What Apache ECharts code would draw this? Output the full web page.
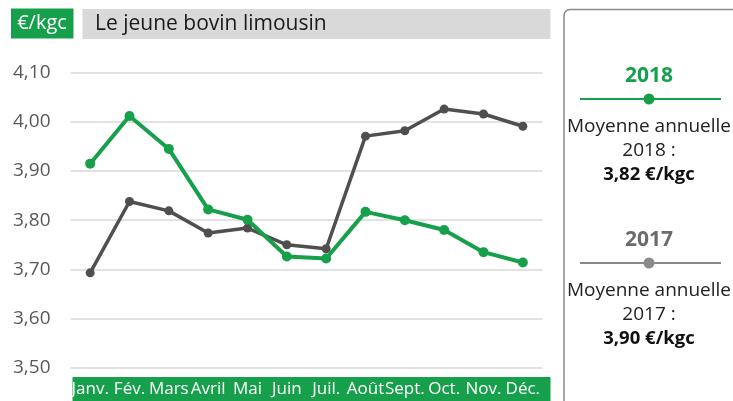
<!DOCTYPE html>
<html>
<head>
<meta charset="utf-8">
<script src="https://cdn.jsdelivr.net/npm/echarts@6/dist/echarts.min.js"></script>
<style>
html,body{margin:0;padding:0;background:#fff;}
#chart{width:733px;height:401px;}
</style>
</head>
<body>
<div id="chart"></div>
<script>
// ---- data ----
var months = ['Janv.', 'Fév.', 'Mars', 'Avril', 'Mai', 'Juin', 'Juil.', 'Août', 'Sept.', 'Oct.', 'Nov.', 'Déc.'];
var values2018 = [3.915, 4.012, 3.945, 3.822, 3.801, 3.726, 3.722, 3.817, 3.800, 3.780, 3.735, 3.714];
var values2017 = [3.693, 3.838, 3.819, 3.774, 3.784, 3.750, 3.742, 3.971, 3.982, 4.026, 4.016, 3.991];
var seriesNames = ['2018', '2017'];
var annualAverages = ['3,82 €/kgc', '3,90 €/kgc'];
var unitLabel = '€/kgc';
var titleText = 'Le jeune bovin limousin';

var GREEN = '#17a04c';
var DARK = '#4f4f4f';
var FONT = '"Open Sans", "Noto Sans", sans-serif';

var chart = echarts.init(document.getElementById('chart'));

function legendBlock(y0, name, avg, color, lineColor, dotColor) {
  return [
    { type: 'text', x: 649, y: y0, z: 10,
      style: { text: name, fill: color, font: 'bold 21px ' + FONT, align: 'center', verticalAlign: 'middle' } },
    { type: 'line', z: 10, shape: { x1: 580, y1: y0 + 23, x2: 721, y2: y0 + 23 },
      style: { stroke: lineColor, lineWidth: 2 } },
    { type: 'circle', z: 11, shape: { cx: 649, cy: y0 + 23, r: 5.5 }, style: { fill: dotColor } },
    { type: 'text', x: 649, y: y0 + 51, z: 10,
      style: { text: 'Moyenne annuelle', fill: '#222', font: '19px ' + FONT, align: 'center', verticalAlign: 'middle' } },
    { type: 'text', x: 649, y: y0 + 75, z: 10,
      style: { text: name + ' :', fill: '#222', font: '19px ' + FONT, align: 'center', verticalAlign: 'middle' } },
    { type: 'text', x: 649, y: y0 + 99, z: 10,
      style: { text: avg, fill: '#111', font: 'bold 18.5px ' + FONT, align: 'center', verticalAlign: 'middle' } }
  ];
}

var graphics = [
  // unit box
  { type: 'rect', z: 1, shape: { x: 11, y: 8.5, width: 62.5, height: 30 }, style: { fill: GREEN } },
  { type: 'text', z: 2, x: 42, y: 23.5,
    style: { text: unitLabel, fill: '#fff', font: '20px ' + FONT, align: 'center', verticalAlign: 'middle' } },
  // title bar
  { type: 'rect', z: 1, shape: { x: 82.5, y: 9, width: 468, height: 30 }, style: { fill: '#d9d9d9' } },
  { type: 'text', z: 2, x: 95, y: 24,
    style: { text: titleText, fill: '#1a1a1a', font: '21px ' + FONT, align: 'left', verticalAlign: 'middle' } },
  // x-axis green band
  { type: 'rect', z: 0, shape: { x: 72.5, y: 377, width: 478, height: 30 }, style: { fill: GREEN } },
  // legend panel
  { type: 'rect', z: 5, shape: { x: 564, y: 9.5, width: 200, height: 420, r: 6 },
    style: { fill: '#fff', stroke: '#8a8a8a', lineWidth: 1.5 } }
].concat(
  legendBlock(76, seriesNames[0], annualAverages[0], GREEN, GREEN, GREEN),
  legendBlock(240, seriesNames[1], annualAverages[1], '#6b6b6b', '#8a8a8a', '#8a8a8a')
);

var option = {
  animation: false,
  backgroundColor: '#fff',
  grid: { left: 70.5, right: 190.5, top: 72.7, bottom: 33.3, containLabel: false },
  xAxis: {
    type: 'category',
    data: months,
    boundaryGap: true,
    axisLine: { show: false },
    axisTick: { show: false },
    axisLabel: { interval: 0, color: '#fff', fontSize: 17, fontFamily: FONT, margin: 13 }
  },
  yAxis: {
    type: 'value',
    min: 3.5,
    max: 4.1,
    interval: 0.1,
    axisLine: { show: false },
    axisTick: { show: false },
    axisLabel: {
      color: '#595959', fontSize: 19, fontFamily: FONT, margin: 20,
      formatter: function (v) { return v.toFixed(2).replace('.', ','); }
    },
    splitLine: { lineStyle: { color: '#d9d9d9', width: 1.5 } }
  },
  series: [
    {
      name: seriesNames[1], type: 'line', data: values2017,
      symbol: 'circle', symbolSize: 9,
      lineStyle: { color: DARK, width: 3.5 },
      itemStyle: { color: DARK }, z: 3
    },
    {
      name: seriesNames[0], type: 'line', data: values2018,
      symbol: 'circle', symbolSize: 10,
      lineStyle: { color: GREEN, width: 4 },
      itemStyle: { color: GREEN }, z: 4
    }
  ],
  graphic: graphics
};
chart.setOption(option);
</script>
</body>
</html>
